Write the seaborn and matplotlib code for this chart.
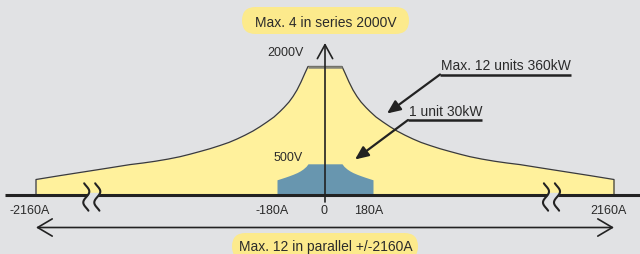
import numpy as np
import pandas as pd
import seaborn as sns
import matplotlib.pyplot as plt
from matplotlib.patches import FancyBboxPatch

# diagram units: 1 unit = 1 px, x measured from the voltage axis, h above the current axis
envelope_dx = [0, 17, 20, 24, 28, 32, 36, 41, 45, 51, 58, 65, 72, 80, 88, 96, 105,
               115, 125, 135, 145, 157, 170, 182, 195, 217, 240, 265, 289]
envelope_h = [128.5, 128.5, 122, 113, 105, 98.5, 93, 87.5, 83.5, 78, 73, 68.3, 64, 59.8,
              56, 52.6, 49.5, 46.3, 43.5, 40.8, 38.3, 35.9, 33.7, 32, 30.4, 26.9, 23.3,
              19.4, 15.5]

unit_dx = [0, 17, 19, 22, 25, 28, 32, 36, 40, 44, 48]
unit_h = [31.2, 31.2, 28.6, 26, 24, 22.4, 20.7, 19.2, 17.8, 16.5, 15.2]

tick_labels = ["-2160A", "-180A", "0", "180A", "2160A"]
tick_pos = [-295, -53, -1, 44, 283.5]

volt_labels = ["2000V", "500V"]
volt_pos = [(-39, 139), (-37, 34)]

BG = "#e1e2e4"
YELLOW = "#fff19c"
BOX = "#fcea8c"
BLUE = "#6896af"
INK = "#222222"
TXT = "#2b2b2b"

sns.set_theme(style="white")
plt.rcParams["font.family"] = ["Liberation Sans", "DejaVu Sans"]


def mirror(dx, h):
    dx = np.asarray(dx, float)
    h = np.asarray(h, float)
    x = np.concatenate([-dx[::-1], dx[1:]])
    y = np.concatenate([h[::-1], h[1:]])
    return x, y


fig = plt.figure(figsize=(6.4, 2.54), dpi=100)
fig.patch.set_facecolor(BG)
ax = fig.add_axes([0, 0, 1, 1])
ax.set_facecolor(BG)
ax.set_xlim(-325, 315)
ax.set_ylim(-59, 195)
ax.axis("off")

# yellow envelope (max. 12 units)
ex, eh = mirror(envelope_dx, envelope_h)
ax.fill_between(ex, 0, eh, color=YELLOW, lw=0, zorder=1)
outline = pd.DataFrame({
    "x": np.concatenate([[ex[0]], ex, [ex[-1]]]),
    "h": np.concatenate([[0], eh, [0]]),
})
sns.lineplot(data=outline, x="x", y="h", sort=False, estimator=None,
             color="#3a3a3a", lw=0.9, ax=ax, zorder=3)
ax.plot([-envelope_dx[1], envelope_dx[1]], [envelope_h[0], envelope_h[0]],
        color="#85857a", lw=1.8, zorder=4, solid_capstyle="butt")

# blue area (1 unit)
ux, uh = mirror(unit_dx, unit_h)
ax.fill_between(ux, 0, uh, color=BLUE, lw=0, zorder=2)

# current axis
ax.plot([-320, 315], [0, 0], color=INK, lw=2.2, zorder=5, solid_capstyle="butt")

# break marks
t = np.linspace(-0.25 * np.pi, 2.25 * np.pi, 80)
sy = np.linspace(11.7, -15.7, 80)
for xa, xb in [(-238.7, -227.7), (221, 232)]:
    xs_a = xa + 3 * np.sin(t)
    xs_b = xb + 3 * np.sin(t)
    m = (sy > -2.5) & (sy < 2.8)
    ax.fill_betweenx(sy[m], xs_a[m], xs_b[m], color="#dde1e4", lw=0, zorder=6)
    ax.plot(xs_a, sy, color=INK, lw=1.5, zorder=7)
    ax.plot(xs_b, sy, color=INK, lw=1.5, zorder=7)

# voltage axis
ax.annotate("", xy=(0, 152), xytext=(0, -7),
            arrowprops=dict(arrowstyle="->,head_length=1.0,head_width=0.55",
                            lw=1.2, color=INK, shrinkA=0, shrinkB=0,
                            mutation_scale=10), zorder=8)

# parallel range arrow
ax.annotate("", xy=(-289, -32.5), xytext=(289, -32.5),
            arrowprops=dict(arrowstyle="<->,head_length=1.05,head_width=0.62",
                            lw=1.2, color=INK, shrinkA=0, shrinkB=0,
                            mutation_scale=10), zorder=8)

for lab, x in zip(tick_labels, tick_pos):
    ax.text(x, -19, lab, ha="center", va="baseline", fontsize=9, color=TXT)
for lab, (x, y) in zip(volt_labels, volt_pos):
    ax.text(x, y, lab, ha="center", va="baseline", fontsize=9, color=TXT, zorder=9)

# leaders
leaders = [
    ("Max. 12 units 360kW", (115, 120.5), (246, 120.5), (62, 81.5), 125.5),
    ("1 unit 30kW", (83, 75), (157, 75), (30, 35.5), 79),
]
for lab, p0, p1, tip, ty in leaders:
    ax.plot([p0[0], p1[0]], [p0[1], p1[1]], color=INK, lw=1.8, zorder=9,
            solid_capstyle="butt")
    ax.annotate("", xy=tip, xytext=p0,
                arrowprops=dict(arrowstyle="-|>,head_length=0.8,head_width=0.35",
                                lw=1.6, color=INK, shrinkA=0, shrinkB=0,
                                mutation_scale=10), zorder=9)
    ax.text(p0[0] + 1, ty, lab, ha="left", va="baseline", fontsize=10, color=TXT)

# label boxes
ax.add_patch(FancyBboxPatch((-83, 161), 167, 27, boxstyle="round,pad=0,rounding_size=13.5",
                            fc=BOX, ec="none", zorder=8))
ax.text(0.5, 168, "Max. 4 in series 2000V", ha="center", va="baseline",
        fontsize=10, color=TXT, zorder=9)
ax.add_patch(FancyBboxPatch((-93, -65), 186, 27, boxstyle="round,pad=0,rounding_size=13.5",
                            fc=BOX, ec="none", zorder=8))
ax.text(0.5, -55.5, "Max. 12 in parallel +/-2160A", ha="center", va="baseline",
        fontsize=10, color=TXT, zorder=9)

fig.savefig("out.png", dpi=100, facecolor=BG)
